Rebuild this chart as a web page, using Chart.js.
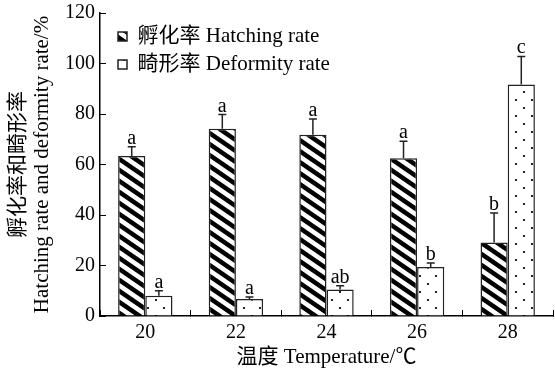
<!DOCTYPE html>
<html>
<head>
<meta charset="utf-8">
<script src="https://cdn.jsdelivr.net/npm/chart.js@4"></script>
<style>
  html, body { margin: 0; padding: 0; background: #fff; }
</style>
</head>
<body>
<canvas id="mainChart" width="555" height="372"></canvas>
<script>
const temps = ["20", "22", "24", "26", "28"];
const hatchRate = [63.4, 74.2, 71.8, 62.5, 29.1];
const hatchSd = [3.6, 5.6, 6.2, 6.7, 11.7];
const hatchSig = ["a", "a", "a", "a", "b"];
const deformRate = [8.0, 6.7, 10.5, 19.4, 91.7];
const deformSd = [2.0, 0.8, 1.5, 1.6, 11.1];
const deformSig = ["a", "a", "ab", "b", "c"];
const yTicks = [0, 20, 40, 60, 80, 100, 120];

const serif = "'Liberation Serif', 'Noto Sans CJK SC', serif";

function hatchPattern() {
    const w = 16, h = 11;
    const c = document.createElement("canvas");
    c.width = w; c.height = h;
    const g = c.getContext("2d");
    g.fillStyle = "#fff";
    g.fillRect(0, 0, w, h);
    g.strokeStyle = "#000";
    g.lineWidth = 4.5;
    for (const k of [-1, 0, 1]) {
        g.beginPath();
        g.moveTo(-w, k * h - h);
        g.lineTo(2 * w, k * h + 2 * h);
        g.stroke();
    }
    return g.createPattern(c, "repeat");
}

function dotPattern() {
    const c = document.createElement("canvas");
    c.width = 16; c.height = 16;
    const g = c.getContext("2d");
    g.fillStyle = "#fff";
    g.fillRect(0, 0, 16, 16);
    g.fillStyle = "#222";
    g.fillRect(3, 3, 2, 2);
    g.fillRect(11, 11, 2, 2);
    return g.createPattern(c, "repeat");
}

// error bars + significance letters
const errorBars = {
    id: "errorBars",
    afterDatasetsDraw(chart) {
        const ctx = chart.ctx;
        const y = chart.scales.y;
        ctx.save();
        ctx.strokeStyle = "#222";
        ctx.lineWidth = 1.5;
        ctx.fillStyle = "#000";
        ctx.font = "20px " + serif;
        ctx.textAlign = "center";
        ctx.textBaseline = "alphabetic";
        chart.data.datasets.forEach((ds, i) => {
            chart.getDatasetMeta(i).data.forEach((bar, j) => {
                const top = y.getPixelForValue(ds.data[j] + ds.sd[j]);
                ctx.beginPath();
                ctx.moveTo(bar.x, bar.y);
                ctx.lineTo(bar.x, top);
                ctx.moveTo(bar.x - 4, top);
                ctx.lineTo(bar.x + 4, top);
                ctx.stroke();
                ctx.fillText(ds.sig[j], bar.x, top - 3);
            });
        });
        ctx.restore();
    }
};

// nudge the legend inside the plot (chartArea legend starts at top 0)
const legendShift = {
    id: "legendShift",
    afterLayout(chart) {
        if (chart.legend) {
            chart.legend.left += 11;
            chart.legend.top += 19;
        }
    }
};

new Chart(document.getElementById("mainChart"), {
    type: "bar",
    data: {
        labels: temps,
        datasets: [{
            label: "孵化率 Hatching rate",
            data: hatchRate,
            sd: hatchSd,
            sig: hatchSig,
            backgroundColor: hatchPattern(),
            borderColor: "#222",
            borderWidth: 1.5
        }, {
            label: "畸形率 Deformity rate",
            data: deformRate,
            sd: deformSd,
            sig: deformSig,
            backgroundColor: dotPattern(),
            borderColor: "#222",
            borderWidth: 1.5
        }]
    },
    options: {
        responsive: false,
        animation: false,
        devicePixelRatio: 1,
        layout: { padding: { top: 13, right: 2, left: 0, bottom: 0 } },
        datasets: {
            bar: { categoryPercentage: 0.6, barPercentage: 1.0 }
        },
        plugins: {
            legend: {
                position: "chartArea",
                align: "start",
                labels: {
                    boxWidth: 9,
                    boxHeight: 9,
                    padding: 7,
                    color: "#000",
                    font: { family: serif, size: 21 }
                }
            },
            tooltip: { enabled: false },
            title: { display: false }
        },
        scales: {
            x: {
                grid: {
                    drawOnChartArea: false,
                    tickLength: -6,
                    color: "#000",
                    lineWidth: 1
                },
                border: { color: "#000", width: 1.5 },
                ticks: {
                    color: "#000",
                    padding: 11,
                    font: { family: serif, size: 20 }
                },
                title: {
                    display: true,
                    text: "温度 Temperature/℃",
                    color: "#000",
                    padding: { top: 0, bottom: 2 },
                    font: { family: serif, size: 21 }
                },
                afterFit(scale) { scale.height = 56; }
            },
            y: {
                min: 0,
                max: 120,
                afterBuildTicks(scale) {
                    scale.ticks = yTicks.map(v => ({ value: v }));
                },
                grid: {
                    drawOnChartArea: false,
                    tickLength: -6,
                    color: "#000",
                    lineWidth: 1
                },
                border: { color: "#000", width: 1.5 },
                ticks: {
                    color: "#000",
                    padding: 11,
                    font: { family: serif, size: 20 }
                },
                title: {
                    display: true,
                    text: ["孵化率和畸形率", "Hatching rate and deformity rate/%"],
                    color: "#000",
                    padding: { top: 6, bottom: 0 },
                    font: { family: serif, size: 21, lineHeight: 1.15 }
                },
                afterFit(scale) {
                    scale.width = 100;
                    scale.paddingTop = 0;
                    scale.paddingBottom = 0;
                }
            }
        }
    },
    plugins: [errorBars, legendShift]
});
</script>
</body>
</html>
